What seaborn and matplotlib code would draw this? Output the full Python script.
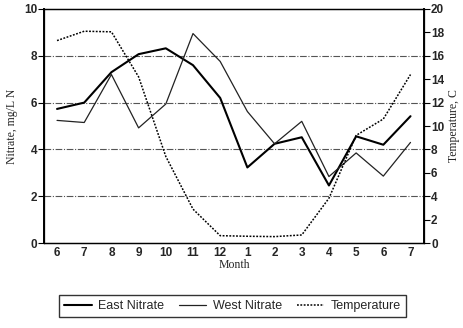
import matplotlib
matplotlib.use("Agg")
import matplotlib.pyplot as plt
import seaborn as sns
import pandas as pd
from matplotlib.lines import Line2D

months = ["6", "7", "8", "9", "10", "11", "12", "1", "2", "3", "4", "5", "6", "7"]
east_nitrate = [5.73, 6.0, 7.3, 8.07, 8.32, 7.6, 6.2, 3.23, 4.24, 4.52, 2.46, 4.56, 4.2, 5.42]
west_nitrate = [5.24, 5.15, 7.2, 4.92, 5.94, 8.95, 7.76, 5.62, 4.24, 5.2, 2.84, 3.85, 2.86, 4.3]
temperature = [17.3, 18.1, 18.05, 14.2, 7.4, 2.9, 0.63, 0.58, 0.55, 0.69, 3.83, 9.2, 10.6, 14.4]

sns.set_theme(style="white")
plt.rcParams['font.family'] = ['Liberation Sans', 'DejaVu Sans']

idx = list(range(len(months)))
df = pd.DataFrame({"pos": idx, "East Nitrate": east_nitrate,
                   "West Nitrate": west_nitrate, "Temperature": temperature})

fig = plt.figure(figsize=(4.63, 3.28), dpi=100)
ax = fig.add_axes([0.095, 0.259, 0.821, 0.7136])
ax2 = ax.twinx()

sns.lineplot(data=df, x="pos", y="East Nitrate", ax=ax, color="black", lw=1.5)
sns.lineplot(data=df, x="pos", y="West Nitrate", ax=ax, color="#222222", lw=0.9)
sns.lineplot(data=df, x="pos", y="Temperature", ax=ax2, color="black", lw=1.1,
             linestyle=(0, (1.2, 1.0)))

ax.set_xlim(-0.48, 13.5)
ax.set_ylim(0, 10)
ax2.set_ylim(0, 20)
ax.set_yticks([0, 2, 4, 6, 8, 10])
ax2.set_yticks(list(range(0, 21, 2)))
ax.set_xticks(idx)
ax.set_xticklabels(months)

for y in [2, 4, 6, 8]:
    ax.axhline(y, color="#555555", lw=0.8, linestyle=(0, (6, 1.5, 1, 1.5)), zorder=0)

for lab in ax.get_xticklabels() + ax.get_yticklabels() + ax2.get_yticklabels():
    lab.set_fontsize(8.5)
    lab.set_fontweight("bold")

ax.tick_params(axis="y", direction="out", length=4, width=0.8, color="black", pad=1)
ax.tick_params(axis="x", length=0, pad=3)
ax2.tick_params(axis="y", direction="out", length=4, width=0.8, color="black", pad=1)

for a in (ax, ax2):
    for s in a.spines.values():
        s.set_color("black")
        s.set_linewidth(0.9)
ax.spines["left"].set_linewidth(1.4)
ax2.spines["right"].set_linewidth(1.4)

serif = ['Liberation Serif', 'DejaVu Serif']
ax.set_xlabel("Month", family=serif, fontsize=8.5, labelpad=0)
ax.set_ylabel("Nitrate, mg/L N", family=serif, fontsize=8.5, labelpad=4)
ax2.set_ylabel("Temperature, C", family=serif, fontsize=8.5, labelpad=3, rotation=90)

handles = [Line2D([], [], color="black", lw=1.5),
           Line2D([], [], color="#222222", lw=0.9),
           Line2D([], [], color="black", lw=1.1, linestyle=(0, (1.2, 1.0)))]
leg = fig.legend(handles, ["East Nitrate", "West Nitrate", "Temperature"],
                 loc="center", bbox_to_anchor=(0.502, 0.067), ncol=3,
                 frameon=True, fancybox=False, fontsize=9,
                 handlelength=2.2, handletextpad=0.5, columnspacing=1.2,
                 borderpad=0.4)
leg.get_frame().set_edgecolor("black")
leg.get_frame().set_linewidth(1.0)

fig.savefig("out.png", dpi=100)
